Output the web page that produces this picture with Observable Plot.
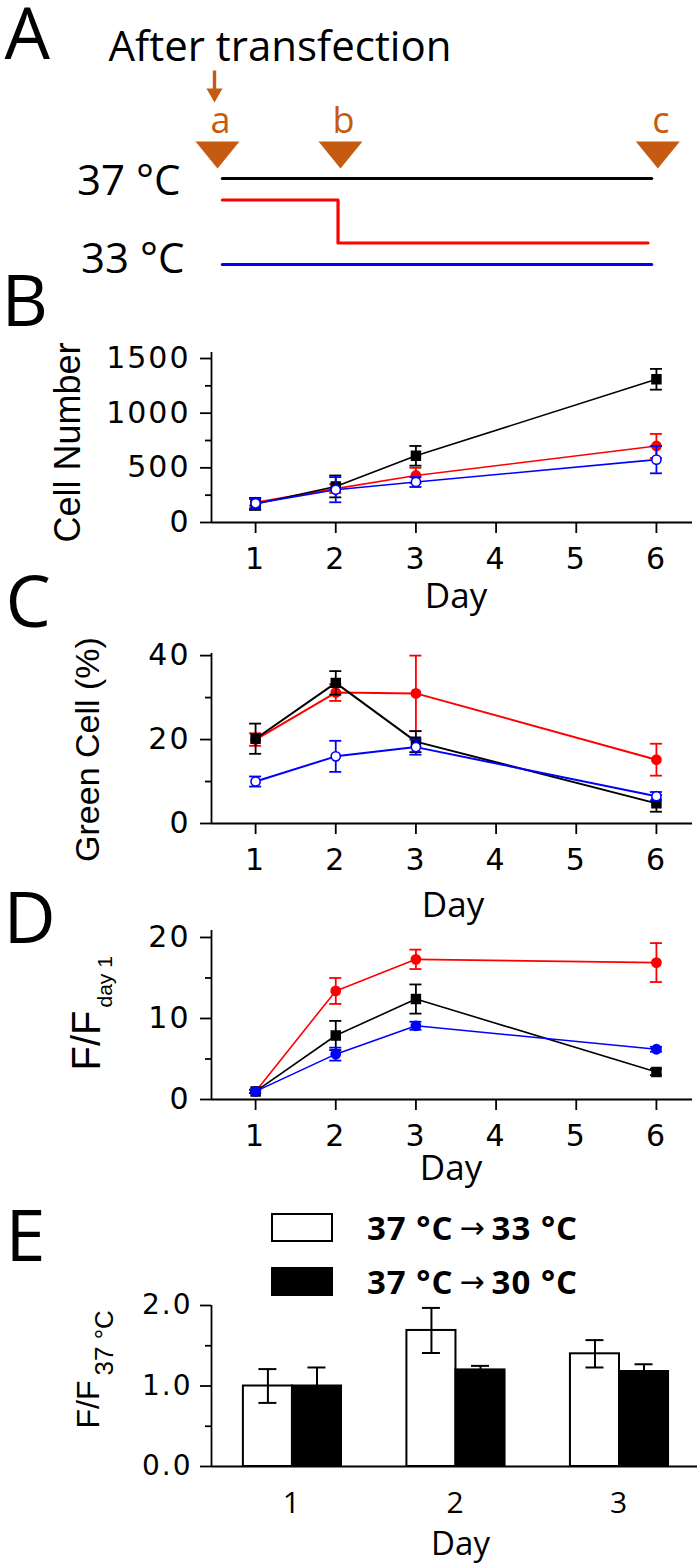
<!DOCTYPE html>
<html>
<head>
<meta charset="utf-8">
<script src="https://cdn.jsdelivr.net/npm/d3@7"></script>
<script src="https://cdn.jsdelivr.net/npm/@observablehq/plot@0.6"></script>
<style>
  body { margin: 0; background: #fff; }
  #fig { position: relative; width: 700px; height: 1567px; overflow: hidden; background: #fff; }
  g[aria-label="y-axis tick label"] text, g[aria-label="x-axis tick label"] text { letter-spacing: 2px; }
  .leg { position: absolute; left: 271px; height: 30px; display: flex; align-items: center;
         font-family: "Open Sans"; font-weight: 700; font-size: 33px; letter-spacing: 1px; color: #000; white-space: nowrap; }
  .sw { width: 62px; height: 29px; box-sizing: border-box; border: 2px solid #000; margin-right: 34px; }
  .arr { font-family: "DejaVu Sans"; font-weight: 400; font-size: 30px; margin: 0 6px; }
</style>
</head>
<body>
<div id="fig"></div>
<script>
// ---------------- data ----------------
const days = [1, 2, 3, 6];
const dayTicks = [1, 2, 3, 4, 5, 6];

// Panel A (timeline)
const eventLabels = ["a", "b", "c"];
const eventTimes = [0, 1, 3.58];
const blackProfileT = [0.04, 3.53];
const blackProfileLevel = [37, 37];
const redProfileT = [0.04, 0.98, 0.98, 3.5];
const redProfileLevel = [36, 36, 34, 34];
const blueProfileT = [0.04, 3.53];
const blueProfileLevel = [33, 33];
const tempLabels = ["37 °C", "33 °C"];
const tempLevels = [37, 33];

// Panel B: Cell Number
const cellBlack = [170, 330, 610, 1310];
const cellBlackErr = [55, 100, 90, 95];
const cellRed = [185, 310, 430, 700];
const cellRedErr = [30, 40, 70, 110];
const cellBlue = [175, 300, 370, 575];
const cellBlueErr = [45, 115, 45, 125];
const cellTicks = [0, 500, 1000, 1500];
const cellMinor = [250, 750, 1250];

// Panel C: Green Cell (%)
const greenBlack = [20.2, 33.5, 19.5, 4.8];
const greenBlackErr = [3.6, 2.8, 2.5, 2.0];
const greenRed = [20.0, 31.2, 31.0, 15.2];
const greenRedErr = [1.5, 2.0, 9.0, 3.8];
const greenBlue = [10.0, 16.0, 18.2, 6.5];
const greenBlueErr = [1.2, 3.7, 1.8, 1.0];
const greenTicks = [0, 20, 40];
const greenMinor = [10, 30];

// Panel D: F/F day1
const fBlack = [1, 7.9, 12.4, 3.4];
const fBlackErr = [0.2, 1.8, 1.8, 0.4];
const fRed = [1, 13.4, 17.3, 16.9];
const fRedErr = [0.2, 1.6, 1.2, 2.4];
const fBlue = [1, 5.6, 9.1, 6.2];
const fBlueErr = [0.2, 0.8, 0.5, 0.3];
const fTicks = [0, 10, 20];
const fMinor = [5, 15];

// Panel E: F/F 37 °C bars
const barDays = [1, 2, 3];
const ratio33 = [1.0, 1.69, 1.40];
const ratio33Err = [0.21, 0.28, 0.17];
const ratio30 = [1.0, 1.20, 1.18];
const ratio30Err = [0.23, 0.05, 0.09];
const ratioTicks = [0, 1, 2];
const ratioMinor = [0.5, 1.5];
const legendFrom = ["37 °C", "37 °C"];
const legendTo = ["33 °C", "30 °C"];

// ---------------- helpers ----------------
const ORANGE = "#c55a11";
const fig = document.getElementById("fig");
function place(svg, top) {
  svg.style.position = "absolute";
  svg.style.left = "0px";
  svg.style.top = top + "px";
  svg.style.overflow = "visible";
  svg.style.background = "none";
  fig.appendChild(svg);
}
const downTriangle = { draw(ctx) { ctx.moveTo(-22, -13); ctx.lineTo(22, -13); ctx.lineTo(0, 14); ctx.closePath(); } };
const downArrow = { draw(ctx) {
  ctx.moveTo(-1.7, -16); ctx.lineTo(1.7, -16); ctx.lineTo(1.7, 2); ctx.lineTo(8, 2);
  ctx.lineTo(0, 16); ctx.lineTo(-8, 2); ctx.lineTo(-1.7, 2); ctx.closePath(); } };
const txt = d => d;

// ---------------- Panel A ----------------
const events = eventLabels.map((label, i) => ({label, t: eventTimes[i]}));
const prof = (T, L) => T.map((t, i) => ({t, level: L[i]}));
const tempRows = tempLabels.map((label, i) => ({label, level: tempLevels[i], t: blackProfileT[0]}));
const A = Plot.plot({
  width: 700, height: 285, margin: 0,
  x: {domain: [-1.7642, 3.9268], axis: null},
  y: {domain: [32.023, 45.279], axis: null},
  style: {fontFamily: "Open Sans"},
  marks: [
    Plot.line(prof(blackProfileT, blackProfileLevel), {x: "t", y: "level", stroke: "#000", strokeWidth: 3.2}),
    Plot.line(prof(redProfileT, redProfileLevel), {x: "t", y: "level", stroke: "#ff0000", strokeWidth: 3.2}),
    Plot.line(prof(blueProfileT, blueProfileLevel), {x: "t", y: "level", stroke: "#0000ff", strokeWidth: 3.2}),
    Plot.dot(events, {x: "t", frameAnchor: "top", dy: 154, symbol: downTriangle, r: 1, fill: ORANGE, stroke: null}),
    Plot.dot(events.slice(0, 1), {x: "t", frameAnchor: "top", dy: 86, dx: -3, symbol: downArrow, r: 1, fill: ORANGE, stroke: null}),
    Plot.text(events, {x: "t", text: "label", frameAnchor: "top", dy: 132, dx: 3, lineAnchor: "bottom", fontSize: 36, fill: ORANGE, fontFamily: "Open Sans"}),
    Plot.text(tempRows.slice(0, 1), {x: "t", y: "level", text: "label", textAnchor: "end", dx: -42, dy: 3, fontSize: 42, fontFamily: "Open Sans"}),
    Plot.text(tempRows.slice(1), {x: "t", y: "level", text: "label", textAnchor: "end", dx: -38, dy: -5, fontSize: 42, fontFamily: "Open Sans"}),
    Plot.text(["A"], {text: txt, frameAnchor: "top-left", dx: 4, dy: 58, lineAnchor: "bottom", textAnchor: "start", fontSize: 72, fontFamily: "Open Sans"}),
    Plot.text(["After transfection"], {text: txt, frameAnchor: "top-left", dx: 108, dy: 60, lineAnchor: "bottom", textAnchor: "start", fontSize: 42, fontFamily: "Open Sans"})
  ]
});
place(A, 0);

// ---------------- line panels B, C, D ----------------
const CAP = 0.075;
function linePanel(cfg) {
  const marks = [];
  for (const s of cfg.series) {
    const data = days.map((day, i) => ({day, v: s.values[i], e: s.errors[i]}));
    marks.push(
      Plot.line(data, {x: "day", y: "v", stroke: s.color, strokeWidth: cfg.lineWidth}),
      Plot.ruleX(data, {x: "day", y1: d => d.v - d.e, y2: d => d.v + d.e, stroke: s.color, strokeWidth: 1.8}),
      Plot.ruleY(data, {y: d => d.v + d.e, x1: d => d.day - CAP, x2: d => d.day + CAP, stroke: s.color, strokeWidth: 1.8}),
      Plot.ruleY(data, {y: d => d.v - d.e, x1: d => d.day - CAP, x2: d => d.day + CAP, stroke: s.color, strokeWidth: 1.8}),
      Plot.dot(data, {x: "day", y: "v", symbol: s.symbol, r: s.r, fill: s.open ? "white" : s.color, stroke: s.color, strokeWidth: 1.6})
    );
  }
  const xDomain = [0.45, 6.45];
  const svg = Plot.plot({
    width: 700, height: cfg.svgBottom - cfg.svgTop,
    marginLeft: 211, marginRight: 8,
    marginTop: cfg.frameTop - cfg.svgTop, marginBottom: cfg.svgBottom - cfg.frameBottom,
    x: {domain: xDomain},
    y: {domain: cfg.yDomain},
    style: {fontFamily: "DejaVu Sans", fontSize: "30px"},
    marks: [
      Plot.axisX({ticks: dayTicks, tickSize: 11, tickPadding: 14, label: null, fontSize: 30, strokeWidth: 1.8, tickFormat: d => String(d)}),
      Plot.axisY({ticks: cfg.yTicks, tickSize: 11, tickPadding: 10, label: null, fontSize: 30, strokeWidth: 1.8, tickFormat: d => String(d)}),
      Plot.axisY({ticks: cfg.yMinor, tickSize: 6, label: null, strokeWidth: 1.8, tickFormat: () => ""}),
      Plot.ruleX([xDomain[0]], {strokeWidth: 1.8}),
      Plot.ruleY([0], {strokeWidth: 1.8}),
      ...marks,
      Plot.text([cfg.letter], {text: txt, frameAnchor: "top-left", dx: cfg.letterDx, dy: cfg.letterDy, lineAnchor: "bottom", textAnchor: "start", fontSize: 72, fontFamily: "Open Sans"}),
      Plot.text(["Day"], {text: txt, frameAnchor: "bottom", dx: cfg.dayDx, dy: cfg.dayDy, lineAnchor: "middle", textAnchor: "middle", fontSize: 35, fontFamily: "Open Sans"}),
      ...cfg.labelMarks
    ]
  });
  place(svg, cfg.svgTop);
}

const blackSeries = (v, e) => ({values: v, errors: e, color: "#000000", symbol: "square", r: 5, open: false});
const redSeries = (v, e) => ({values: v, errors: e, color: "#ff0000", symbol: "circle", r: 4.6, open: false});
const blueSeries = (v, e, open) => ({values: v, errors: e, color: "#0000ff", symbol: "circle", r: 4.6, open});

// B
linePanel({
  svgTop: 272, svgBottom: 622, frameTop: 352, frameBottom: 522,
  yDomain: [0, 1555], yTicks: cellTicks, yMinor: cellMinor, lineWidth: 1.6,
  series: [redSeries(cellRed, cellRedErr), blackSeries(cellBlack, cellBlackErr), blueSeries(cellBlue, cellBlueErr, true)],
  letter: "B", letterDx: -210, letterDy: -27, dayDx: 4, dayDy: 74,
  labelMarks: [
    Plot.text(["Cell Number"], {text: txt, frameAnchor: "left", rotate: -90, dx: -143, dy: 5, textAnchor: "middle", lineAnchor: "middle", fontSize: 36, fontFamily: "Liberation Sans"})
  ]
});

// C
linePanel({
  svgTop: 572, svgBottom: 928, frameTop: 653, frameBottom: 823,
  yDomain: [0, 40.5], yTicks: greenTicks, yMinor: greenMinor, lineWidth: 2,
  series: [redSeries(greenRed, greenRedErr), blackSeries(greenBlack, greenBlackErr), blueSeries(greenBlue, greenBlueErr, true)],
  letter: "C", letterDx: -206, letterDy: -27, dayDx: 1, dayDy: 82,
  labelMarks: [
    Plot.text(["Green Cell (%)"], {text: txt, frameAnchor: "left", rotate: -90, dx: -123, dy: 11, textAnchor: "middle", lineAnchor: "middle", fontSize: 34, fontFamily: "Liberation Sans"})
  ]
});

// D
linePanel({
  svgTop: 886, svgBottom: 1192, frameTop: 930, frameBottom: 1099,
  yDomain: [0, 20.86], yTicks: fTicks, yMinor: fMinor, lineWidth: 1.6,
  series: [redSeries(fRed, fRedErr), blackSeries(fBlack, fBlackErr), blueSeries(fBlue, fBlueErr, false)],
  letter: "D", letterDx: -208, letterDy: 12, dayDx: -1, dayDy: 69,
  labelMarks: [
    Plot.text(["F/F"], {text: txt, frameAnchor: "bottom-left", rotate: -90, dx: -124, dy: -29, textAnchor: "start", lineAnchor: "middle", fontSize: 40, fontFamily: "Liberation Sans"}),
    Plot.text(["day 1"], {text: txt, frameAnchor: "bottom-left", rotate: -90, dx: -106, dy: -92, textAnchor: "start", lineAnchor: "middle", fontSize: 21, fontFamily: "Liberation Sans"})
  ]
});

// ---------------- Panel E ----------------
const BW = 0.3, ECAP = 0.055;
const rows33 = barDays.map((day, i) => ({day, v: ratio33[i], e: ratio33Err[i], c: day - BW / 2}));
const rows30 = barDays.map((day, i) => ({day, v: ratio30[i], e: ratio30Err[i], c: day + BW / 2}));
const errMarks = rows => [
  Plot.ruleX(rows, {x: "c", y1: d => d.v - d.e, y2: d => d.v + d.e, stroke: "#000", strokeWidth: 2}),
  Plot.ruleY(rows, {y: d => d.v + d.e, x1: d => d.c - ECAP, x2: d => d.c + ECAP, stroke: "#000", strokeWidth: 2}),
  Plot.ruleY(rows, {y: d => d.v - d.e, x1: d => d.c - ECAP, x2: d => d.c + ECAP, stroke: "#000", strokeWidth: 2})
];
const eXDomain = [0.505, 3.477];
const E = Plot.plot({
  width: 700, height: 372, marginLeft: 211, marginRight: 3, marginTop: 110, marginBottom: 101,
  x: {domain: eXDomain},
  y: {domain: [0, 2]},
  style: {fontFamily: "DejaVu Sans", fontSize: "28px"},
  marks: [
    Plot.rect(rows33, {x1: d => d.day - BW, x2: "day", y1: 0, y2: "v", fill: "white", stroke: "#000", strokeWidth: 2}),
    Plot.rect(rows30, {x1: "day", x2: d => d.day + BW, y1: 0, y2: "v", fill: "#000", stroke: "#000", strokeWidth: 2}),
    ...errMarks(rows33), ...errMarks(rows30),
    Plot.axisX({ticks: barDays, tickSize: 0, tickPadding: 25, label: null, fontSize: 30, fontFamily: "Open Sans", tickFormat: d => String(d)}),
    Plot.axisY({ticks: ratioTicks, tickSize: 11, tickPadding: 8, label: null, fontSize: 28, strokeWidth: 1.8, tickFormat: d3.format(".1f")}),
    Plot.axisY({ticks: ratioMinor, tickSize: 6, label: null, strokeWidth: 1.8, tickFormat: () => ""}),
    Plot.ruleX([eXDomain[0]], {strokeWidth: 1.8}),
    Plot.ruleY([0], {strokeWidth: 1.8}),
    Plot.text(["E"], {text: txt, frameAnchor: "top-left", dx: -206, dy: -45, lineAnchor: "bottom", textAnchor: "start", fontSize: 72, fontFamily: "Open Sans"}),
    Plot.text(["Day"], {text: txt, frameAnchor: "bottom", dx: 6, dy: 78, lineAnchor: "middle", textAnchor: "middle", fontSize: 33, fontFamily: "Open Sans"}),
    Plot.text(["F/F"], {text: txt, frameAnchor: "bottom-left", rotate: -90, dx: -123, dy: -38, textAnchor: "start", lineAnchor: "middle", fontSize: 32, fontFamily: "Liberation Sans"}),
    Plot.text(["37 °C"], {text: txt, frameAnchor: "bottom-left", rotate: -90, dx: -107, dy: -91, textAnchor: "start", lineAnchor: "middle", fontSize: 26, fontFamily: "Liberation Sans"})
  ]
});
place(E, 1195);

// legend (HTML, above panel E)
const legendFills = ["#fff", "#000"];
const legendTops = [1212, 1266];
legendFrom.forEach((from, i) => {
  const row = document.createElement("div");
  row.className = "leg";
  row.style.top = legendTops[i] + "px";
  const sw = document.createElement("span");
  sw.className = "sw";
  sw.style.background = legendFills[i];
  const a = document.createElement("span"); a.textContent = from;
  const arr = document.createElement("span"); arr.className = "arr"; arr.textContent = "→";
  const b = document.createElement("span"); b.textContent = legendTo[i];
  row.appendChild(sw); row.appendChild(a); row.appendChild(arr); row.appendChild(b);
  fig.appendChild(row);
});
</script>
</body>
</html>
